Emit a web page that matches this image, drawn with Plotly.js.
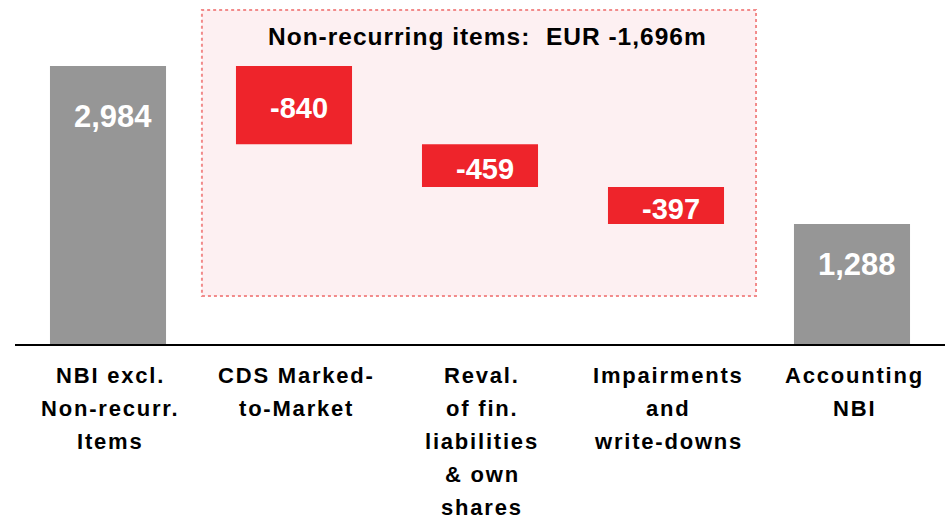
<!DOCTYPE html>
<html>
<head>
<meta charset="utf-8">
<script src="https://cdn.plot.ly/plotly-3.0.1.min.js"></script>
<style>html,body{margin:0;padding:0;background:#fff;}#chart{width:948px;height:520px;}</style>
</head>
<body>
<div id="chart"></div>
<script>
// ---- data ----
var categories = ["NBI excl. Non-recurr. Items", "CDS Marked-to-Market", "Reval. of fin. liabilities & own shares", "Impairments and write-downs", "Accounting NBI"];
var labelLines = [
  ["NBI excl.", "Non-recurr.", "Items"],
  ["CDS Marked-", "to-Market"],
  ["Reval.", "of fin.", "liabilities", "& own", "shares"],
  ["Impairments", "and", "write-downs"],
  ["Accounting", "NBI"]
];
var measures = ["absolute", "relative", "relative", "relative", "total"];
var values = [2984, -840, -459, -397, 1288];
var valueLabels = ["2,984", "-840", "-459", "-397", "1,288"];
var boxTitle = "Non-recurring items:\u00A0 EUR -1,696m";

// ---- styles ----
var FONT = "Liberation Sans, Arial, Helvetica, sans-serif";
var GREY = "#969696";
var RED = "#EE242B";

// compute bar tops / mids from the data (waterfall logic)
var running = 0, tops = [], mids = [];
for (var i = 0; i < values.length; i++) {
  if (measures[i] === "absolute") { running = values[i]; tops.push(running); mids.push(null); }
  else if (measures[i] === "relative") { tops.push(running); mids.push(running + values[i] / 2); running += values[i]; }
  else { tops.push(running); mids.push(null); }
}

var trace = {
  type: "waterfall",
  x: categories,
  y: values,
  measure: measures,
  connector: {visible: false},
  decreasing: {marker: {color: RED}},
  increasing: {marker: {color: RED}},
  totals: {marker: {color: GREY}},
  textposition: "none",
  hoverinfo: "none",
  cliponaxis: false
};

var annotations = [];
// value labels
var greyDrop = [-51, 0, 0, 0, -41];
for (var j = 0; j < values.length; j++) {
  var isRel = measures[j] === "relative";
  annotations.push({
    x: categories[j], y: isRel ? mids[j] : tops[j],
    xref: "x", yref: "y",
    text: valueLabels[j],
    showarrow: false,
    xanchor: "center", yanchor: "middle",
    xshift: 5, yshift: isRel ? -3 : greyDrop[j],
    font: {family: FONT, size: isRel ? 29 : 31, color: "#ffffff", weight: "bold"}
  });
}
// category labels, one line each for the wider line spacing
for (var k = 0; k < labelLines.length; k++) {
  for (var m = 0; m < labelLines[k].length; m++) {
    annotations.push({
      x: categories[k], y: 0, xref: "x", yref: "y",
      text: '<span style="letter-spacing:1.8px">' + labelLines[k][m] + '</span>',
      showarrow: false,
      xanchor: "center", yanchor: "top",
      xshift: 2, yshift: -17 - m * 33,
      font: {family: FONT, size: 22, color: "#000000", weight: "bold"}
    });
  }
}
// box title
annotations.push({
  x: 2, y: 3300, xref: "x", yref: "y",
  text: '<span style="letter-spacing:1px">' + boxTitle + '</span>',
  showarrow: false, xanchor: "center", yanchor: "middle", xshift: 7,
  font: {family: FONT, size: 24.5, color: "#000000", weight: "bold"}
});

var layout = {
  width: 948, height: 520,
  margin: {l: 15, r: 3, t: 0, b: 176, pad: 0},
  paper_bgcolor: "#ffffff", plot_bgcolor: "#ffffff",
  showlegend: false,
  waterfallgap: 0.376,
  xaxis: {
    type: "category", range: [-0.5, 4.5], fixedrange: true,
    showticklabels: false, ticks: "", showgrid: false, zeroline: false,
    showline: true, linecolor: "#000000", linewidth: 2
  },
  yaxis: {
    range: [0, 3692], fixedrange: true,
    showticklabels: false, ticks: "", showgrid: false, zeroline: false, showline: false
  },
  shapes: [{
    type: "rect", xref: "x", yref: "y",
    x0: 0.505, x1: 3.484, y0: 515, y1: 3585,
    fillcolor: "#FDF0F2",
    line: {color: "#F28B8B", width: 2, dash: "dot"},
    layer: "below"
  }],
  annotations: annotations
};

Plotly.newPlot("chart", [trace], layout, {staticPlot: true, displayModeBar: false});
</script>
</body>
</html>
